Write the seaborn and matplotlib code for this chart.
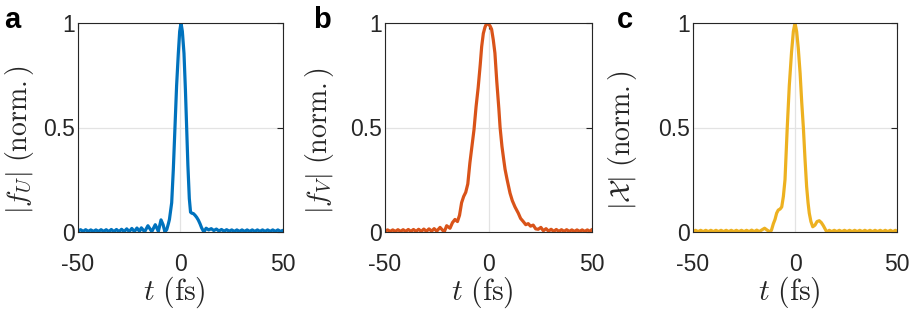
#!/usr/bin/env python3
"""
Three-panel pulse profiles |f_U|, |f_V| and |X| versus time (normalised).
"""

import pandas as pd
import seaborn as sns
import matplotlib.pyplot as plt

# === Data ===
# panel a : |f_U|
t_a = [-50, -48.75, -47.5, -46.25, -45, -43.75, -42.5, -41.25, -40, -38.75,
       -37.5, -36.25, -35, -33.75, -32.5, -31.25, -30, -28.75, -27.5, -26.25,
       -25, -23.75, -22.5, -21.25, -20, -19.1, -17.5, -15.9, -14, -12.3,
       -10.8, -9.5, -8.5, -7.6, -6.7, -5.9, -5.4, -4.3, -3.5, -2.7,
       -1.9, -1.06, -0.4, 0.25, 0.9, 1.7, 2.4, 3.0, 3.6, 4.3,
       4.9, 5.5, 6.3, 7.1, 7.9, 8.7, 9.5, 10.3, 11.4, 12.5,
       13.75, 15, 16.25, 17.5, 18.75, 20, 21.25, 22.5, 23.75, 25,
       26.25, 27.5, 28.75, 30, 31.25, 32.5, 33.75, 35, 36.25, 37.5,
       38.75, 40, 41.25, 42.5, 43.75, 45, 46.25, 47.5, 48.75, 50]
f_u = [0.004, 0.011, 0.003, 0.011, 0.003, 0.010, 0.003, 0.010, 0.003, 0.011,
       0.003, 0.011, 0.002, 0.012, 0.002, 0.012, 0.002, 0.013, 0.002, 0.015,
       0.002, 0.017, 0.002, 0.019, 0.003, 0.020, 0.001, 0.030, 0.002, 0.035,
       0.003, 0.058, 0.035, 0.0, 0.012, 0.04, 0.06, 0.14, 0.30, 0.50,
       0.70, 0.855, 0.96, 1.0, 0.96, 0.855, 0.68, 0.50, 0.32, 0.16,
       0.095, 0.09, 0.088, 0.08, 0.07, 0.057, 0.04, 0.02, 0.0, 0.018,
       0.010, 0.016, 0.007, 0.014, 0.005, 0.012, 0.004, 0.011, 0.004, 0.010,
       0.003, 0.010, 0.003, 0.010, 0.003, 0.010, 0.003, 0.010, 0.003, 0.010,
       0.003, 0.010, 0.003, 0.010, 0.003, 0.010, 0.003, 0.010, 0.003, 0.008]

# panel b : |f_V|
t_b = [-50, -48.75, -47.5, -46.25, -45, -43.75, -42.5, -41.25, -40, -38.75,
       -37.5, -36.25, -35, -33.75, -32.5, -31.25, -30, -28.75, -27.5, -26.25,
       -25, -23.4, -21.4, -20.2, -18.6, -17.4, -16.2, -15, -14, -13,
       -12, -11, -10, -9, -8, -7, -6, -5, -4, -3.3,
       -2.5, -1.7, -0.8, 0, 0.8, 1.5, 2.3, 3.1, 4, 5,
       5.6, 6.5, 7.3, 8, 9, 10.4, 11.5, 12.8, 14.4, 15.5,
       16.8, 18, 19.2, 20.3, 21.6, 22.8, 24, 25.3, 26.5, 27.8,
       29, 30.25, 31.5, 32.75, 34, 35.25, 36.5, 37.75, 39, 40.25,
       41.5, 42.75, 44, 45.25, 46.5, 47.75, 49, 50]
f_v = [0.004, 0.010, 0.003, 0.010, 0.003, 0.011, 0.003, 0.011, 0.003, 0.012,
       0.003, 0.012, 0.003, 0.013, 0.003, 0.014, 0.003, 0.015, 0.004, 0.016,
       0.004, 0.022, 0.0, 0.030, 0.018, 0.045, 0.060, 0.050, 0.080, 0.140,
       0.170, 0.190, 0.230, 0.330, 0.410, 0.490, 0.600, 0.690, 0.800, 0.887,
       0.950, 0.980, 1.0, 0.995, 0.985, 0.970, 0.920, 0.856, 0.720, 0.590,
       0.500, 0.410, 0.350, 0.300, 0.250, 0.186, 0.150, 0.120, 0.090, 0.065,
       0.050, 0.035, 0.040, 0.028, 0.033, 0.015, 0.013, 0.022, 0.006, 0.016,
       0.004, 0.013, 0.003, 0.012, 0.003, 0.011, 0.003, 0.011, 0.003, 0.010,
       0.003, 0.010, 0.003, 0.010, 0.003, 0.010, 0.003, 0.012]

# panel c : |X|
t_c = [-50, -48.75, -47.5, -46.25, -45, -43.75, -42.5, -41.25, -40, -38.75,
       -37.5, -36.25, -35, -33.75, -32.5, -31.25, -30, -28.75, -27.5, -26.25,
       -25, -23.75, -22.5, -21.25, -20, -18.75, -17.5, -16.25, -14.9, -13.5,
       -12.1, -11.5, -10.6, -9.8, -9, -8.2, -7.3, -6.5, -5.7, -4.9,
       -3.8, -2.8, -1.7, -0.8, 0, 0.8, 1.6, 2.5, 3.3, 4.1,
       4.9, 5.7, 6.4, 7, 7.8, 8.7, 9.8, 10.8, 11.9, 12.9,
       13.9, 15, 15.6, 16.8, 18, 19.25, 20.5, 21.75, 23, 24.25,
       25.5, 26.75, 28, 29.25, 30.5, 31.75, 33, 34.25, 35.5, 36.75,
       38, 39.25, 40.5, 41.75, 43, 44.25, 45.5, 46.75, 48, 49.25, 50]
chi = [0.003, 0.008, 0.002, 0.008, 0.002, 0.008, 0.002, 0.008, 0.002, 0.008,
       0.002, 0.008, 0.002, 0.008, 0.002, 0.008, 0.002, 0.008, 0.002, 0.008,
       0.002, 0.008, 0.002, 0.009, 0.002, 0.009, 0.002, 0.010, 0.018, 0.008,
       0.0, 0.010, 0.040, 0.060, 0.090, 0.105, 0.110, 0.120, 0.170, 0.250,
       0.500, 0.700, 0.860, 0.960, 1.0, 0.960, 0.880, 0.760, 0.620, 0.500,
       0.350, 0.217, 0.140, 0.090, 0.050, 0.025, 0.033, 0.050, 0.054, 0.045,
       0.030, 0.010, 0.0, 0.008, 0.002, 0.008, 0.002, 0.008, 0.002, 0.008,
       0.002, 0.008, 0.002, 0.008, 0.002, 0.008, 0.002, 0.008, 0.002, 0.008,
       0.002, 0.008, 0.002, 0.008, 0.002, 0.008, 0.002, 0.008, 0.002, 0.008, 0.003]

panel_letters = ["a", "b", "c"]
y_labels = [r"$|f_U|\ (\mathrm{norm.})$",
            r"$|f_V|\ (\mathrm{norm.})$",
            r"$|\mathcal{X}|\ (\mathrm{norm.})$"]
x_label = r"$t\ (\mathrm{fs})$"
x_ticks = [-50, 0, 50]
x_ticklabels = ["-50", "0", "50"]
y_ticks = [0, 0.5, 1]
y_ticklabels = ["0", "0.5", "1"]
colors = ["#0072BD", "#D95319", "#EDB120"]

# === Style ===
sns.set_theme(style="white")
plt.rcParams["font.family"] = ["Liberation Sans", "DejaVu Sans"]
plt.rcParams["mathtext.fontset"] = "cm"

INK = "#262626"

fig = plt.figure(figsize=(9.15, 3.13), dpi=100)

# axes rectangles in figure fractions (left, bottom, width, height)
rects = [(78 / 915, 1 - 232 / 313, 205 / 915, 209 / 313),
         (385 / 915, 1 - 232 / 313, 207 / 915, 209 / 313),
         (693 / 915, 1 - 232 / 313, 204 / 915, 209 / 313)]
ylabel_x = [-0.205, -0.235, -0.265]
letter_x = [4 / 915, 313 / 915, 617 / 915]

series = [(t_a, f_u), (t_b, f_v), (t_c, chi)]

for i, (t, v) in enumerate(series):
    ax = fig.add_axes(rects[i])
    df = pd.DataFrame({"t": t, "v": v})
    sns.lineplot(data=df, x="t", y="v", ax=ax, color=colors[i], lw=2.3,
                 sort=True, estimator=None)

    ax.set_xlim(-50, 50)
    ax.set_ylim(0, 1)
    ax.set_xticks(x_ticks)
    ax.set_xticklabels(x_ticklabels)
    ax.set_yticks(y_ticks)
    ax.set_yticklabels(y_ticklabels)
    ax.grid(True, color="#e3e3e3", lw=0.9)
    ax.set_axisbelow(True)

    ax.tick_params(direction="in", top=True, right=True, length=4, width=0.8,
                   color=INK, labelcolor=INK, labelsize=16.5)
    ax.tick_params(axis="x", pad=15)
    ax.tick_params(axis="y", pad=2)
    for sp in ax.spines.values():
        sp.set_visible(True)
        sp.set_color(INK)
        sp.set_linewidth(0.8)

    ax.set_xlabel(x_label, fontsize=21.5, color=INK)
    ax.set_ylabel(y_labels[i], fontsize=20, color=INK)
    ax.xaxis.set_label_coords(0.47, -0.205)
    ax.yaxis.set_label_coords(ylabel_x[i], 0.44)

    fig.text(letter_x[i], 1 - 28.3 / 313, panel_letters[i], fontsize=21,
             fontweight="bold", color="black", ha="left", va="baseline")

fig.savefig("out.png", dpi=100)
plt.close(fig)
